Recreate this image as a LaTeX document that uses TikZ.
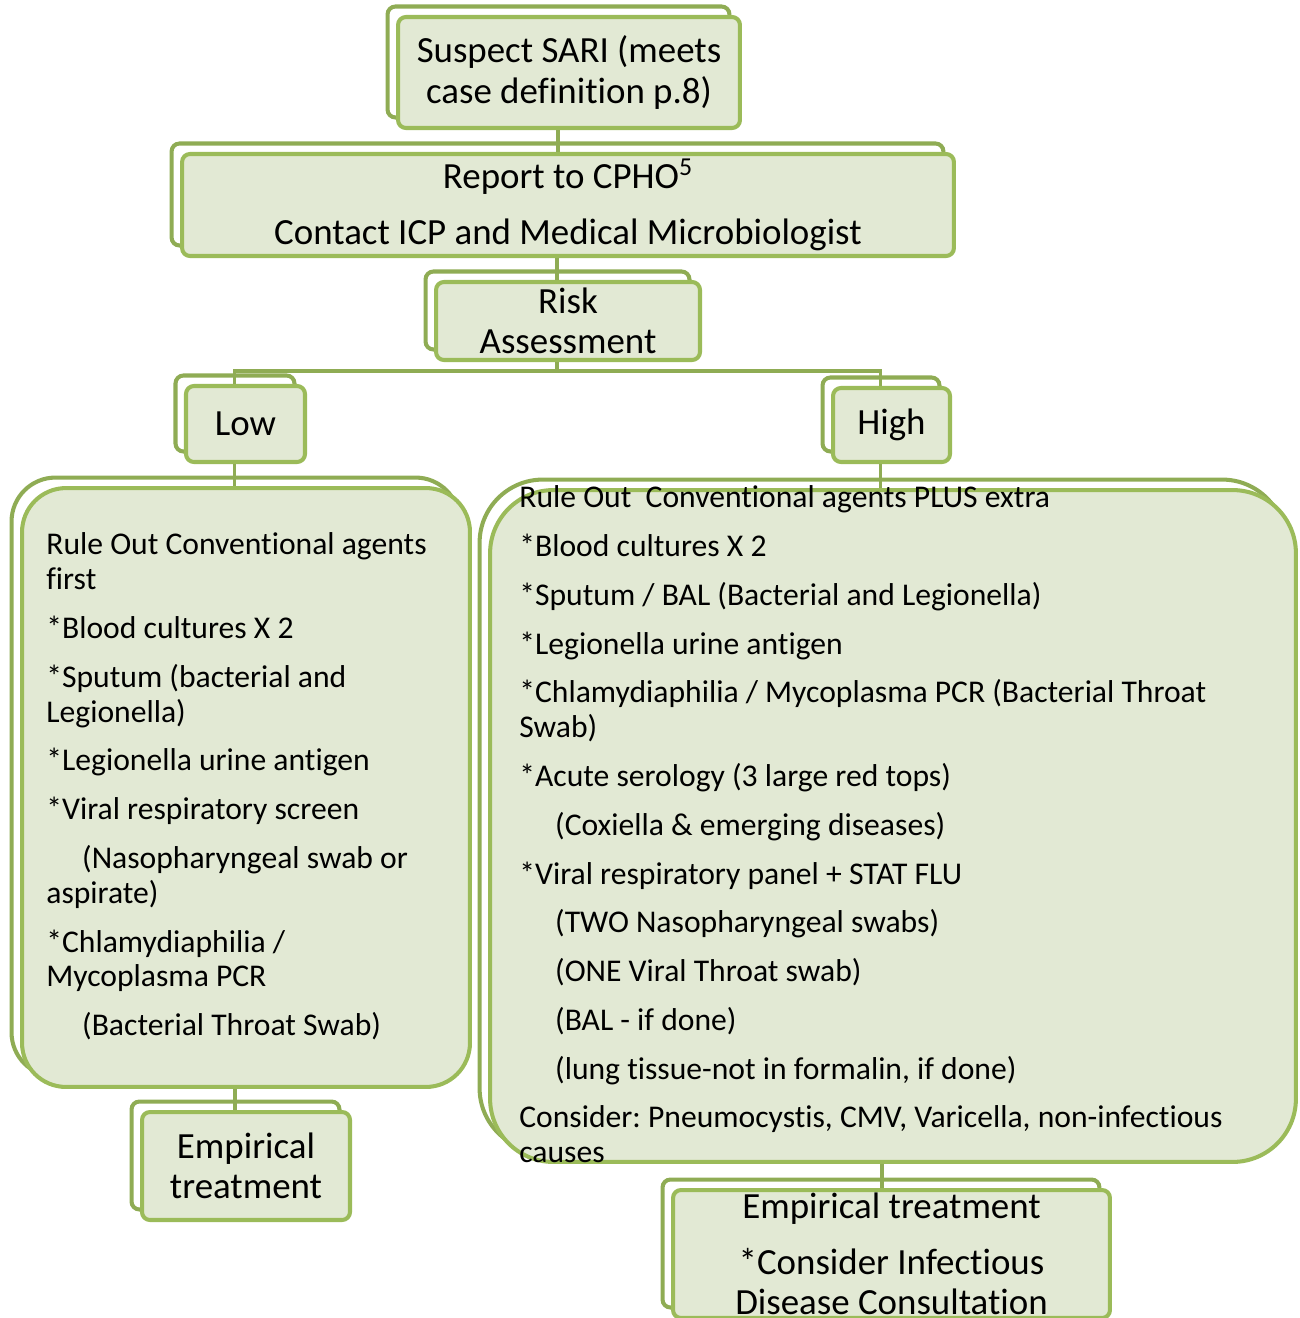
\documentclass[tikz,border=0pt]{standalone}
\usepackage{fontspec}
\setmainfont{Carlito}[Ligatures={NoCommon,NoContextual}]
\usepackage{tikz}
\usetikzlibrary{calc,shadows}
\definecolor{leafgreen}{HTML}{9BBB59}
\definecolor{shadegreen}{HTML}{8FAC54}
\definecolor{boxfill}{HTML}{E2E9D4}
\newcommand{\headfont}{\fontsize{21}{23}\selectfont}
\newcommand{\listfont}{\fontsize{18}{19.85}\selectfont}
\newcommand{\ind}{\hspace*{20.4pt}}
\frenchspacing

\begin{document}
\begin{tikzpicture}[x=0.02cm, y=-0.02cm,
  stepbox/.style={draw=leafgreen, fill=boxfill, line width=2.3pt, rounded corners=4.5pt,
    inner sep=0pt, align=center, font=\headfont,
    copy shadow={shadow xshift=-0.21cm, shadow yshift=0.21cm, fill=none, draw=shadegreen, opacity=1}},
  listbox/.style={stepbox, rounded corners=#1},
  listtext/.style={inner sep=0pt, align=left, anchor=west, font=\listfont},
  link/.style={shadegreen, line width=2.2pt}]
  \clip (0,0) rectangle (1300,1318);

  % top chain
  \node[stepbox, minimum width=6.84cm, minimum height=2.22cm] (sari) at (569,72.5)
    {Suspect SARI (meets\\case definition p.8)};
  \node[stepbox, minimum width=15.44cm, minimum height=2.04cm] (report) at (568,205)
    {Report to CPHO\textsuperscript{5}\\[8.7pt]Contact ICP and Medical Microbiologist};
  \node[stepbox, minimum width=5.28cm, minimum height=1.56cm] (risk) at (568,321)
    {Risk\\Assessment};

  % risk levels
  \node[stepbox, minimum width=2.38cm, minimum height=1.52cm] (low) at (245.5,424) {Low};
  \node[stepbox, minimum width=2.34cm, minimum height=1.48cm] (high) at (891.5,425) {High};

  % test lists
  \node[listbox=25pt, minimum width=8.96cm, minimum height=11.98cm] (lowbox) at (246,787.5) {};
  \node[listtext] (lowlist) at (46,786.5) {Rule Out Conventional agents\\first\\[7.9pt]
    *Blood cultures X 2\\[7.9pt]
    *Sputum (bacterial and\\Legionella)\\[7.9pt]
    *Legionella urine antigen\\[7.9pt]
    *Viral respiratory screen\\[7.9pt]
    \ind(Nasopharyngeal swab or\\aspirate)\\[7.9pt]
    *Chlamydiaphilia /\\Mycoplasma PCR\\[7.9pt]
    \ind(Bacterial Throat Swab)};

  \node[listbox=36pt, minimum width=16.12cm, minimum height=13.44cm] (highbox) at (893,826) {};
  \node[listtext] (highlist) at (519,824.5) {Rule Out~ Conventional agents PLUS extra\\[7.9pt]
    *Blood cultures X 2\\[7.9pt]
    *Sputum / BAL (Bacterial and Legionella)\\[7.9pt]
    *Legionella urine antigen\\[7.9pt]
    *Chlamydiaphilia / Mycoplasma PCR (Bacterial Throat\\Swab)\\[7.9pt]
    *Acute serology (3 large red tops)\\[7.9pt]
    \ind(Coxiella \& emerging diseases)\\[7.9pt]
    *Viral respiratory panel + STAT FLU\\[7.9pt]
    \ind(TWO Nasopharyngeal swabs)\\[7.9pt]
    \ind(ONE Viral Throat swab)\\[7.9pt]
    \ind(BAL - if done)\\[7.9pt]
    \ind(lung tissue-not in formalin, if done)\\[7.9pt]
    Consider: Pneumocystis, CMV, Varicella, non-infectious\\causes};

  % treatment
  \node[stepbox, minimum width=4.16cm, minimum height=2.16cm] (lowtreat) at (246,1166)
    {Empirical\\treatment};
  \node[stepbox, minimum width=8.74cm, minimum height=2.56cm] (hightreat) at (891.5,1254)
    {Empirical treatment\\[8.7pt]*Consider Infectious\\Disease Consultation};

  % connectors
  \draw[link] ($(sari.south)+(-11,0)$) coordinate (p1) -- (p1 |- report.north);
  \draw[link] ($(report.south)+(-11,0)$) coordinate (p2) -- (p2 |- risk.north);
  \draw[link] ($(risk.south)+(-11,0)$) -- ++(0,9) -| ($(low.north)+(-11,0)$);
  \draw[link] ($(risk.south)+(-11,0)$) -- ++(0,9) -| ($(high.north)+(-11,0)$);
  \draw[link] ($(low.south)+(-11,0)$) coordinate (p3) -- (p3 |- lowbox.north);
  \draw[link] ($(high.south)+(-11,0)$) coordinate (p4) -- (p4 |- highbox.north);
  \draw[link] ($(lowbox.south)+(-11,0)$) coordinate (p5) -- (p5 |- lowtreat.north);
  \draw[link] ($(highbox.south)+(-11,0)$) coordinate (p6) -- (p6 |- hightreat.north);
\end{tikzpicture}
\end{document}
